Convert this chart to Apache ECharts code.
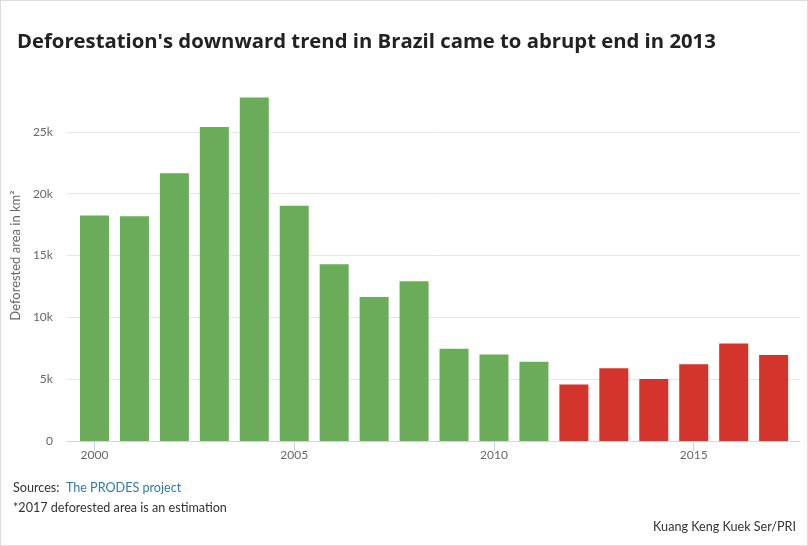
<!DOCTYPE html>
<html><head><meta charset="utf-8">
<script src="https://cdn.jsdelivr.net/npm/echarts@6/dist/echarts.min.js"></script>
<style>
html,body{margin:0;padding:0;background:#fff;}
#c{width:806px;height:544px;border:1px solid #dcdcdc;}
</style></head>
<body><div id="c"></div>
<script>
const years = [2000,2001,2002,2003,2004,2005,2006,2007,2008,2009,2010,2011,2012,2013,2014,2015,2016,2017];
const deforested = [18226,18165,21651,25396,27772,19014,14286,11651,12911,7464,7000,6418,4571,5891,5012,6207,7893,6947];
const xTicks = [2000,2005,2010,2015];
const highlightFrom = 2012;

const chart = echarts.init(document.getElementById('c'), null, {renderer:'canvas'});
const FONT = 'Lato, "Open Sans", sans-serif';
chart.setOption({
  animation:false,
  backgroundColor:'#fff',
  title:{
    text:"Deforestation's downward trend in Brazil came to abrupt end in 2013",
    left:11, top:26,
    textStyle:{fontFamily:'"Open Sans", sans-serif', fontWeight:700, fontSize:20.3, color:'#222'}
  },
  grid:{left:64, right:7, top:69, bottom:104, containLabel:false},
  xAxis:{
    type:'value', min:1999.31, max:2017.66,
    splitLine:{show:false},
    axisLine:{show:true, onZero:false, lineStyle:{color:'#ccd6eb', width:1}},
    axisTick:{show:true, customValues:xTicks, length:10, lineStyle:{color:'#ccd6eb'}},
    axisLabel:{customValues:xTicks, color:'#666', fontSize:12, fontFamily:FONT, margin:8, formatter:v=>String(v)}
  },
  yAxis:{
    type:'value', min:0, max:30000, interval:5000,
    name:'Deforested area in km²', nameLocation:'middle', nameGap:43,
    nameTextStyle:{color:'#666', fontSize:13, fontFamily:FONT},
    axisLine:{show:false}, axisTick:{show:false},
    axisLabel:{color:'#666', fontSize:12, fontFamily:FONT, margin:14,
      formatter:v=> v===30000 ? '' : (v===0 ? '0' : (v/1000)+'k')},
    splitLine:{show:true, lineStyle:{color:['#e6e6e6','#e6e6e6','#e6e6e6','#e6e6e6','#e6e6e6','#e6e6e6','rgba(0,0,0,0)'], width:1}}
  },
  series:[{
    type:'bar',
    barWidth:29,
    data: years.map((y,i)=>[y, deforested[i]]),
    itemStyle:{
      color: p => p.value[0] >= highlightFrom ? '#d3342b' : '#6aac5a'
    }
  }],
  graphic:[
    {type:'text', left:12, top:480, style:{
      text:'{a|Sources:  }{b|The PRODES project}',
      rich:{a:{fill:'#333', fontSize:12.6, fontFamily:FONT}, b:{fill:'#2f7ab0', fontSize:12.6, fontFamily:FONT}}
    }},
    {type:'text', left:12, top:500, style:{text:'*2017 deforested area is an estimation', fill:'#333', fontSize:12.6, fontFamily:FONT}},
    {type:'text', right:11, top:519, style:{text:'Kuang Keng Kuek Ser/PRI', fill:'#333', fontSize:12.6, fontFamily:FONT}}
  ]
});
</script></body></html>
